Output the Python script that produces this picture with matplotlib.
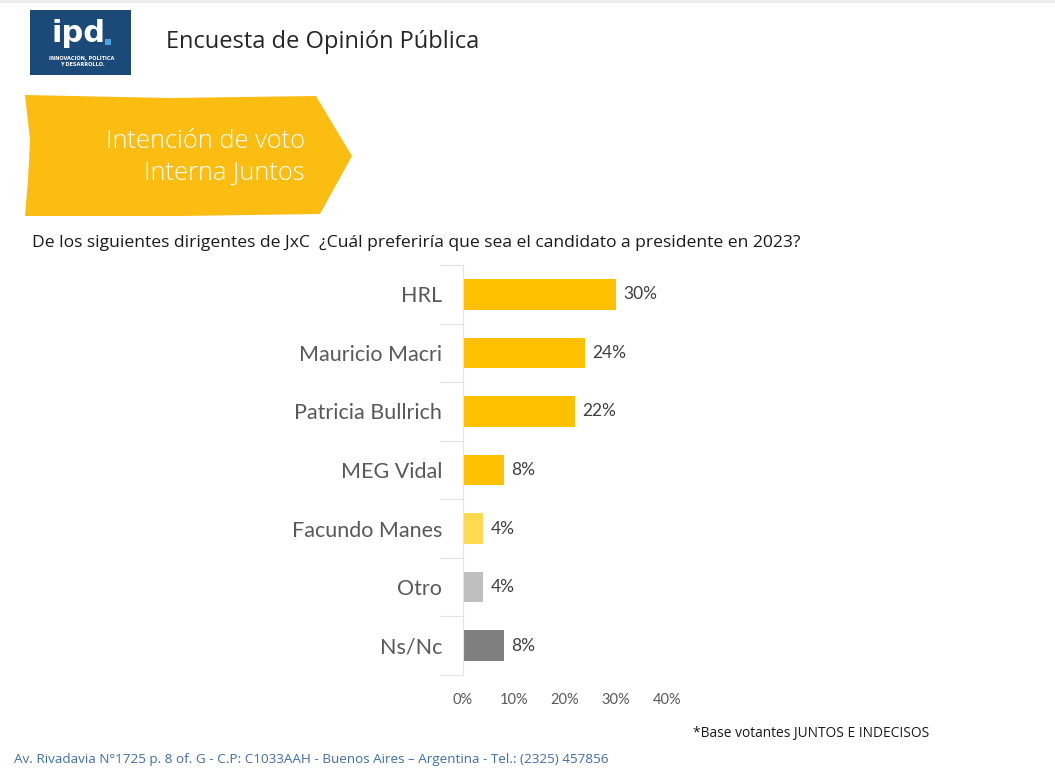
import matplotlib
matplotlib.use("Agg")
import matplotlib.pyplot as plt
from matplotlib.patches import Polygon, Rectangle
from matplotlib.ticker import FixedLocator, PercentFormatter
import numpy as np

# data
candidates = ["HRL", "Mauricio Macri", "Patricia Bullrich", "MEG Vidal",
              "Facundo Manes", "Otro", "Ns/Nc"]
shares = [30, 24, 22, 8, 4, 4, 8]
bar_colors = ["#FFC000", "#FFC000", "#FFC000", "#FFC000",
              "#FFD94F", "#BFBFBF", "#7F7F7F"]
x_ticks = [0, 10, 20, 30, 40]

W, H = 1055, 777
fig = plt.figure(figsize=(W / 100, H / 100), dpi=100)
fig.patch.set_facecolor("white")


def fx(px):
    return px / W


def fy(py):
    return 1 - py / H


# faint top shadow line
fig.add_artist(Rectangle((0, fy(3)), 1, 3 / H, transform=fig.transFigure,
                         color="#EDEDED", lw=0))

# logo
fig.add_artist(Rectangle((fx(30), fy(75)), fx(131) - fx(30), 65 / H,
                         transform=fig.transFigure, color="#1B4A78", lw=0))
fig.text(fx(79), fy(33), "ipd", color="white", fontsize=22, fontweight="bold",
         family="DejaVu Sans", ha="center", va="center")
fig.add_artist(Rectangle((fx(105), fy(45)), 6 / W, 6 / H,
                         transform=fig.transFigure, color="#4DA3E0", lw=0))
fig.text(fx(82), fy(58), "INNOVACIÓN, POLÍTICA", color="white", fontsize=3.6,
         fontweight="bold", ha="center", va="center")
fig.text(fx(82), fy(65), "Y DESARROLLO.", color="white", fontsize=3.6,
         fontweight="bold", ha="center", va="center")

fig.text(fx(166), fy(42), "Encuesta de Opinión Pública", color="#262626",
         fontsize=17, family="Open Sans", va="center", ha="left")

# yellow banner
banner_pts = [(25, 95), (170, 98), (316, 96), (352, 156), (320, 214),
              (180, 216), (25, 216), (28, 180), (30, 140)]
fig.add_artist(Polygon([(fx(a), fy(b)) for a, b in banner_pts], closed=True,
                       transform=fig.transFigure, color="#FCBD12", lw=0))
fig.text(fx(305), fy(142), "Intención de voto", color="white", fontsize=18.3,
         family="Open Sans", fontweight="light", ha="right", va="center")
fig.text(fx(305), fy(173), "Interna Juntos", color="white", fontsize=18.3,
         family="Open Sans", fontweight="light", ha="right", va="center")

fig.text(fx(32), fy(243),
         "De los siguientes dirigentes de JxC  ¿Cuál preferiría que sea el candidato a presidente en 2023?",
         color="#1A1A1A", fontsize=12.6, family="Open Sans", va="center")

# chart
ax = fig.add_axes([fx(463), fy(675), fx(667) - fx(463), 410 / H])
y = np.arange(len(candidates))
ax.barh(y, shares, height=0.52, color=bar_colors)
for yi, v in zip(y, shares):
    ax.annotate(f"{v}%", (v, yi), xytext=(5, 0), textcoords="offset points",
                va="center", ha="left", fontsize=12.5, color="#404040",
                family="Lato")

ax.set_xlim(0, 40)
ax.set_ylim(len(candidates) - 0.5, -0.5)
ax.xaxis.set_major_locator(FixedLocator(x_ticks))
ax.xaxis.set_major_formatter(PercentFormatter(decimals=0))
ax.tick_params(axis="x", length=0, pad=13, labelsize=10.5, labelcolor="#595959")
for lab in ax.get_xticklabels():
    lab.set_family("Lato")

ax.yaxis.set_major_locator(FixedLocator(np.arange(len(candidates) + 1) - 0.5))
ax.yaxis.set_major_formatter(plt.NullFormatter())
ax.yaxis.set_minor_locator(FixedLocator(y))
ax.set_yticklabels(candidates, minor=True)
ax.tick_params(axis="y", which="major", length=16.5, width=0.8, color="#E3E3E3")
ax.tick_params(axis="y", which="minor", length=0, pad=15, labelsize=15.5,
               labelcolor="#595959")
for lab in ax.get_yticklabels(minor=True):
    lab.set_family("Lato")

for s in ["top", "right", "bottom"]:
    ax.spines[s].set_visible(False)
ax.spines["left"].set_color("#E3E3E3")
ax.spines["left"].set_linewidth(0.8)
ax.set_facecolor("none")

fig.text(fx(693), fy(734), "*Base votantes JUNTOS E INDECISOS", color="#1A1A1A",
         fontsize=9.9, family="Open Sans", va="center")
fig.text(fx(14), fy(759),
         "Av. Rivadavia N°1725 p. 8 of. G - C.P: C1033AAH - Buenos Aires – Argentina - Tel.: (2325) 457856",
         color="#3F6FA8", fontsize=9.7, family="Open Sans", va="center")

fig.savefig("out.png", dpi=100)
